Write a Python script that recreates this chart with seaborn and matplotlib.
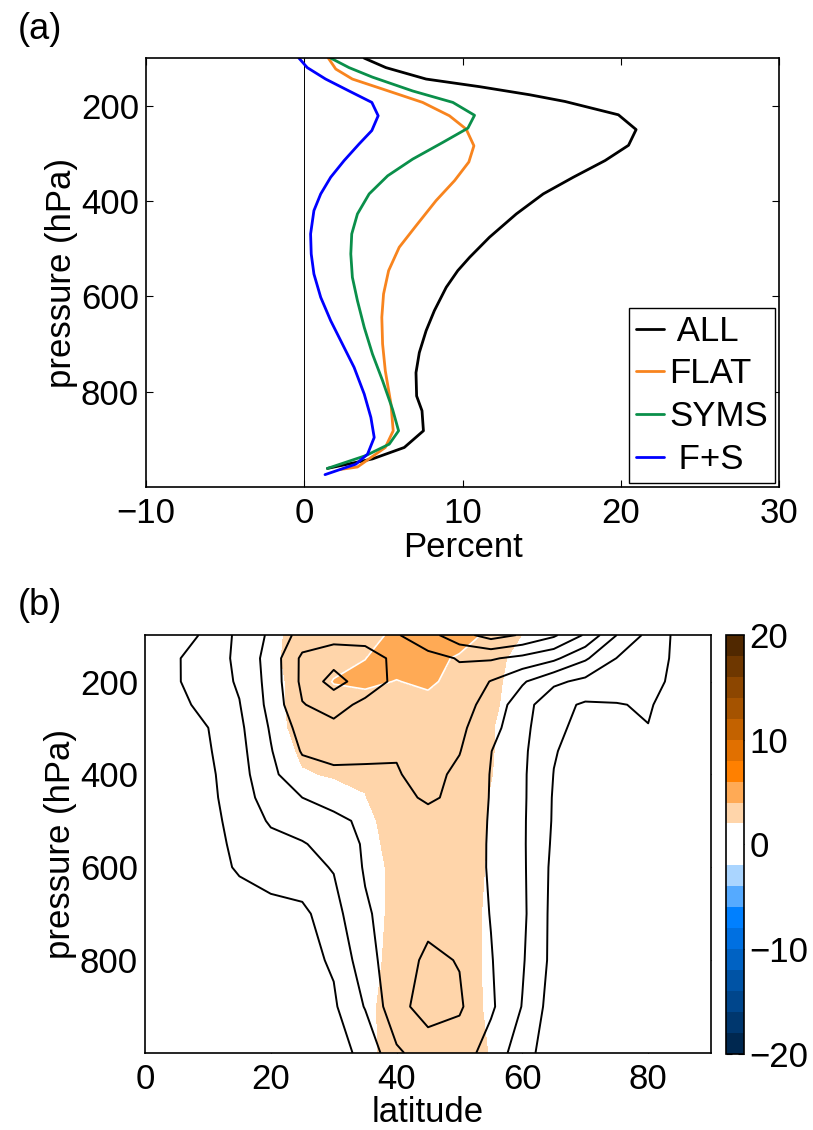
import numpy as np
import pandas as pd
import matplotlib
matplotlib.use("Agg")
import matplotlib.pyplot as plt
from matplotlib.lines import Line2D
import seaborn as sns

# ---------------- Panel (a): vertical profiles (percent vs pressure) ----------------
all_pct = [3.78, 5.16, 7.70, 11.08, 14.25, 16.47, 19.85, 20.97, 20.49, 19.01, 17.0, 15.1, 13.4,
           11.7, 10.45, 9.7, 8.97, 8.22, 7.70, 7.27, 7.06, 7.1, 7.44, 7.53, 6.32, 4.31, 1.46]
all_p = [100, 120, 144, 160, 177, 191, 219, 250, 283, 315, 350, 385, 427,
         476, 518, 546, 581, 630, 672, 718, 760, 809, 840, 882, 917, 941, 961]

flat_pct = [1.52, 1.99, 3.04, 4.95, 7.48, 9.17, 10.23, 10.72, 10.4, 9.5, 8.33, 7.06, 6.0,
            5.33, 5.01, 4.9, 4.95, 5.12, 5.48, 5.62, 5.12, 3.36, 2.3]
flat_p = [100, 123, 144, 165, 193, 221, 249, 284, 318, 357, 399, 452, 497,
          546, 595, 644, 700, 756, 826, 882, 917, 958, 963]

syms_pct = [1.67, 2.83, 4.31, 6.85, 9.39, 10.76, 10.34, 8.75, 6.85, 5.27, 4.1, 3.36, 3.0,
            2.94, 3.04, 3.36, 3.79, 4.31, 4.95, 5.58, 5.96, 5.37, 3.89, 1.46]
syms_p = [100, 120, 140, 169, 193, 220, 247, 277, 312, 347, 385, 427, 469,
          511, 560, 609, 665, 721, 777, 837, 882, 910, 934, 961]

fs_pct = [-0.34, 0.19, 1.35, 2.83, 4.27, 4.67, 4.27, 3.47, 2.52, 1.67, 1.04, 0.61, 0.4,
          0.44, 0.61, 1.04, 1.67, 2.41, 3.15, 3.79, 4.21, 4.42, 4.0, 3.26, 1.31]
fs_p = [100, 120, 144, 169, 193, 221, 252, 280, 315, 350, 385, 420, 469,
        511, 553, 602, 651, 700, 749, 805, 854, 896, 931, 952, 974]

runs = ["ALL", "FLAT", "SYMS", "F+S"]
legend_labels = [" ALL", "FLAT", "SYMS", " F+S"]
run_colors = ["#000000", "#F8841E", "#0A8F4A", "#0000FF"]

# ---------------- Panel (b): latitude-pressure sections ----------------
lat = [0, 5, 10, 15, 20, 25, 30, 35, 40, 45, 50, 55, 60, 65, 70, 75, 80, 85, 90]
plev = [100, 150, 200, 250, 300, 350, 400, 450, 500, 550, 600, 700, 800, 900, 1000]

# control field (black contours)
u_100 = [-3, 1.7, 6.4, 11.1, 15.9, 22, 23, 23.2, 24.6, 28.2, 33.2, 37, 34.5, 30.8, 24.4, 15, 8.7, 3.5, 1]
u_150 = [2, 4.6, 7.6, 11, 17.1, 26, 28, 27, 24, 23.5, 25.3, 25.5, 23.7, 21.1, 15.7, 9.9, 7, 4, 2]
u_200 = [2.5, 4.6, 7.5, 10.6, 16.8, 26.1, 32, 27.4, 24, 23, 23.5, 19.8, 15.6, 11, 8.8, 7.3, 5.8, 4.3, 3]
u_250 = [1, 3.5, 6.7, 9.8, 16.5, 24.8, 26.5, 24, 23, 22.5, 22, 18.2, 12.1, 6.5, 4.4, 4.8, 5.4, 3, 2]
u_300 = [-1, 2, 4.95, 9, 15.5, 22, 24, 23, 22.5, 22, 21, 16.8, 11.4, 6.1, 3.5, 3.8, 4.9, 3, 2]
u_350 = [-2, 1.5, 4.5, 8.5, 14.7, 20.4, 21.5, 21, 20.3, 21.3, 20.2, 15.1, 11, 5.3, 3, 3, 3.3, 2.5, 2]
u_400 = [-2, 1, 4, 8, 14, 18, 19, 19.2, 19.7, 21.5, 19, 14.8, 10.8, 4.9, 2.5, 2.5, 2.5, 2, 1.5]
u_450 = [-2, 1, 3.8, 7.5, 12.5, 15, 16.5, 17.5, 18.8, 20.6, 19, 14.7, 10.8, 4.6, 2.5, 2.5, 2.5, 2, 1.5]
u_500 = [-2, 1, 3.5, 6.8, 10.6, 12.5, 14, 15.8, 17, 18.5, 18, 14.6, 10.7, 4.5, 2.5, 2, 2, 1.5, 1]
u_550 = [-2, 0.8, 3.2, 6.2, 8.5, 9.6, 12, 15.6, 17, 18.2, 17.9, 14.5, 10.7, 4.2, 2.2, 1.8, 1.8, 1.2, 1]
u_600 = [-2, 0.5, 3, 5.6, 7, 8.5, 10.3, 15.5, 17, 18, 17.8, 14.5, 10.8, 3.8, 2, 1.5, 1.5, 1, 1]
u_700 = [-2, 0, 1.5, 2.5, 3.5, 3.8, 8.2, 14.3, 17.5, 18.8, 18.6, 14.8, 11, 3.5, 1.5, 1, 1, 1, 1]
u_800 = [-2, -0.5, 1, 2, 3, 3.5, 5.6, 13, 18, 20.8, 19.8, 15.3, 10.5, 3.5, 1.5, 1, 1, 1, 1]
u_900 = [-2, -1, 0.5, 1.5, 2.5, 3.3, 4.3, 10.3, 18.5, 22, 20.6, 15.8, 9.8, 2.5, 1, 1, 1, 1, 1]
u_1000 = [-2, -1.5, 0, 1, 1.5, 2, 3.5, 6, 14.2, 17.5, 17.5, 12.8, 7.5, 1.5, 0.5, 0.5, 0.5, 0.5, 0.5]

# percent change field (shading)
s_100 = [0.5, 0.5, 0.5, 0.8, 1.6, 2.6, 3.0, 3.5, 4.3, 5.0, 4.8, 3.6, 1.95, 1.0, 0.5, 0.5, 0.5, 0.5, 0.5]
s_150 = [0.5, 0.5, 0.5, 0.8, 1.6, 2.8, 3.3, 3.98, 4.6, 4.5, 3.8, 2.6, 1.4, 0.8, 0.5, 0.5, 0.5, 0.5, 0.5]
s_200 = [0.5, 0.5, 0.5, 0.8, 1.5, 2.6, 4.1, 4.3, 3.95, 4.3, 3.4, 2.4, 1.3, 0.8, 0.5, 0.5, 0.5, 0.5, 0.5]
s_250 = [0.5, 0.5, 0.5, 0.8, 1.5, 2.6, 3.2, 3.4, 3.5, 3.5, 3.2, 2.3, 1.2, 0.8, 0.5, 0.5, 0.5, 0.5, 0.5]
s_300 = [0.5, 0.5, 0.5, 0.7, 1.4, 2.5, 3.0, 3.2, 3.3, 3.3, 3.0, 2.1, 1.1, 0.7, 0.5, 0.5, 0.5, 0.5, 0.5]
s_350 = [0.5, 0.5, 0.5, 0.6, 1.2, 2.2, 2.8, 3.0, 3.2, 3.2, 3.0, 2.1, 1.1, 0.7, 0.5, 0.5, 0.5, 0.5, 0.5]
s_400 = [0.5, 0.5, 0.5, 0.6, 1.0, 1.9, 2.1, 2.2, 3.0, 3.1, 3.0, 2.05, 1.0, 0.6, 0.5, 0.5, 0.5, 0.5, 0.5]
s_450 = [0.5, 0.5, 0.5, 0.5, 0.8, 1.2, 1.5, 1.95, 2.9, 3.0, 2.9, 1.9, 1.0, 0.6, 0.5, 0.5, 0.5, 0.5, 0.5]
s_500 = [0.5, 0.5, 0.5, 0.5, 0.7, 1.0, 1.2, 1.6, 2.7, 3.0, 2.8, 1.9, 1.0, 0.6, 0.5, 0.5, 0.5, 0.5, 0.5]
s_550 = [0.5, 0.5, 0.5, 0.5, 0.65, 0.9, 1.1, 1.45, 2.55, 3.0, 2.8, 1.85, 0.95, 0.55, 0.5, 0.5, 0.5, 0.5, 0.5]
s_600 = [0.5, 0.5, 0.5, 0.5, 0.6, 0.8, 1.0, 1.3, 2.4, 3.0, 2.8, 1.8, 0.9, 0.5, 0.5, 0.5, 0.5, 0.5, 0.5]
s_700 = [0.5, 0.5, 0.5, 0.5, 0.6, 0.8, 1.0, 1.3, 2.4, 3.0, 2.7, 1.7, 0.9, 0.5, 0.5, 0.5, 0.5, 0.5, 0.5]
s_800 = [0.5, 0.5, 0.5, 0.5, 0.6, 0.8, 1.0, 1.4, 2.5, 3.0, 2.7, 1.7, 0.9, 0.5, 0.5, 0.5, 0.5, 0.5, 0.5]
s_900 = [0.5, 0.5, 0.5, 0.5, 0.6, 0.8, 1.1, 1.6, 2.7, 3.0, 2.8, 1.7, 0.9, 0.5, 0.5, 0.5, 0.5, 0.5, 0.5]
s_1000 = [0.5, 0.5, 0.5, 0.5, 0.6, 0.8, 1.1, 1.6, 2.6, 3.0, 2.9, 1.9, 1.0, 0.5, 0.5, 0.5, 0.5, 0.5, 0.5]

shade_levels = list(range(-20, 22, 2))
contour_levels = [5, 10, 15, 20, 25, 30, 35]
white_level = [4]
shade_colors = ["#002850", "#00376E", "#00468C", "#0053A5", "#0062C3", "#0070E1", "#0080FF",
                "#55AAFF", "#AAD5FF", "#FFFFFF", "#FFFFFF", "#FFD5AA", "#FFAA55", "#FF8000",
                "#E17000", "#C36200", "#A55300", "#8C4600", "#6E3700", "#502800"]
cbar_ticks = [-20, -10, 0, 10, 20]

# ---------------- Build figure ----------------
FS = 25
sns.set_theme(style="ticks")
plt.rcParams['font.family'] = ['Liberation Sans', 'DejaVu Sans']
plt.rcParams.update({
    'text.color': 'black', 'axes.labelcolor': 'black',
    'xtick.direction': 'in', 'ytick.direction': 'in',
    'xtick.top': True, 'ytick.right': True,
    'axes.linewidth': 1.2, 'axes.edgecolor': 'black',
    'xtick.major.size': 5, 'ytick.major.size': 5,
    'xtick.major.width': 0.8, 'ytick.major.width': 0.8,
    'xtick.color': 'black', 'ytick.color': 'black',
    'xtick.labelsize': FS, 'ytick.labelsize': FS,
    'xtick.major.pad': 7, 'ytick.major.pad': 5,
})

fig = plt.figure(figsize=(8.13, 11.3), dpi=100)

# Panel (a)
ax1 = fig.add_axes([0.1796, 0.5690, 0.7786, 0.3796])
frames = []
for name, pct, pr in [("ALL", all_pct, all_p), ("FLAT", flat_pct, flat_p),
                      ("SYMS", syms_pct, syms_p), ("F+S", fs_pct, fs_p)]:
    frames.append(pd.DataFrame({"percent": pct, "pressure": pr, "run": name}))
df = pd.concat(frames, ignore_index=True)
palette = dict(zip(runs, run_colors))
sns.lineplot(data=df, x="percent", y="pressure", hue="run", hue_order=runs,
             palette=palette, orient="y", estimator=None, linewidth=2.0,
             ax=ax1, legend=False)
ax1.axvline(0, color="black", lw=0.7, zorder=0)
ax1.set_xlim(-10, 30)
ax1.set_ylim(1000, 100)
ax1.set_xticks([-10, 0, 10, 20, 30])
ax1.set_yticks([200, 400, 600, 800])
ax1.set_xlabel("Percent", fontsize=FS, labelpad=1)
ax1.set_ylabel("pressure (hPa)", fontsize=FS, labelpad=2)
handles = [Line2D([0], [0], color=c, lw=2.0) for c in run_colors]
leg = ax1.legend(handles, legend_labels, loc="lower right", fontsize=FS, frameon=True,
                 fancybox=False, edgecolor="black", framealpha=1,
                 handlelength=0.8, handletextpad=0.15, borderpad=0.2,
                 labelspacing=0.28, borderaxespad=0.12)
leg.get_frame().set_linewidth(1.0)
for t in leg.get_texts():
    t.set_color("black")

# Panel (b)
ax2 = fig.add_axes([0.1784, 0.0681, 0.6962, 0.3699])
U = np.array([u_100, u_150, u_200, u_250, u_300, u_350, u_400, u_450, u_500, u_550,
              u_600, u_700, u_800, u_900, u_1000])
S = np.array([s_100, s_150, s_200, s_250, s_300, s_350, s_400, s_450, s_500, s_550,
              s_600, s_700, s_800, s_900, s_1000])
cf = ax2.contourf(lat, plev, S, levels=shade_levels, colors=shade_colors)
ax2.contour(lat, plev, S, levels=white_level, colors="white", linewidths=1.2)
ax2.contour(lat, plev, U, levels=contour_levels, colors="black", linewidths=1.4)
ax2.set_xlim(0, 90)
ax2.set_ylim(1000, 100)
ax2.set_xticks([0, 20, 40, 60, 80])
ax2.set_yticks([200, 400, 600, 800])
ax2.set_xlabel("latitude", fontsize=FS, labelpad=0)
ax2.set_ylabel("pressure (hPa)", fontsize=FS, labelpad=2)

cax = fig.add_axes([0.8930, 0.0673, 0.0221, 0.3708])
cb = fig.colorbar(cf, cax=cax, ticks=cbar_ticks)
cb.outline.set_linewidth(1.2)
cax.tick_params(direction="in", length=4, width=0.8, labelsize=FS, pad=4, right=True, left=True)

fig.text(0.049, 0.9735, "(a)", ha="center", va="center", fontsize=FS + 1, color="black")
fig.text(0.049, 0.4646, "(b)", ha="center", va="center", fontsize=FS + 1, color="black")

fig.savefig("out.png", dpi=100)
